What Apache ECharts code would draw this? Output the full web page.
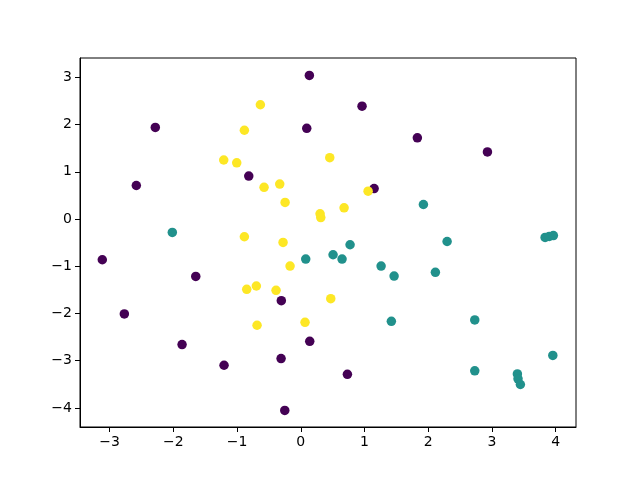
<!DOCTYPE html>
<html>
<head>
<meta charset="utf-8">
<script src="https://cdn.jsdelivr.net/npm/echarts@6/dist/echarts.min.js"></script>
<style>html,body{margin:0;padding:0;background:#fff}#c{width:640px;height:480px}</style>
</head>
<body>
<div id="c"></div>
<script>
const xTicks = [-3, -2, -1, 0, 1, 2, 3, 4];
const yTicks = [-4, -3, -2, -1, 0, 1, 2, 3];
const xRange = [-3.465, 4.32];
const yRange = [-4.405, 3.41];

const purplePts = [[0.135,3.04],[0.962,2.39],[0.094,1.92],[-2.283,1.94],[1.83,1.72],[2.93,1.42],[-0.816,0.91],[-2.581,0.71],[1.151,0.645],[-3.115,-0.863],[-1.648,-1.216],[-0.305,-1.73],[-2.769,-2.01],[0.141,-2.59],[-1.863,-2.66],[-0.309,-2.956],[-1.204,-3.097],[0.732,-3.29],[-0.251,-4.055]];
const tealPts = [[-2.016,-0.285],[1.925,0.307],[3.835,-0.39],[3.90,-0.37],[3.965,-0.35],[2.297,-0.476],[0.774,-0.545],[0.078,-0.848],[0.507,-0.757],[0.648,-0.848],[1.261,-0.996],[1.465,-1.208],[2.113,-1.13],[1.422,-2.167],[2.731,-2.138],[3.956,-2.89],[2.731,-3.216],[3.40,-3.28],[3.41,-3.385],[3.447,-3.505]];
const yellowPts = [[-0.634,2.42],[-0.885,1.88],[-1.209,1.25],[-1.005,1.19],[-0.576,0.67],[-0.33,0.74],[-0.246,0.35],[0.455,1.30],[1.057,0.59],[0.68,0.237],[0.303,0.11],[0.314,0.03],[-0.885,-0.376],[-0.278,-0.497],[-0.168,-0.996],[-0.848,-1.49],[-0.697,-1.419],[-0.388,-1.51],[-0.686,-2.25],[0.471,-1.687],[0.067,-2.188]];

const colors = {purple:'#440154', teal:'#21918c', yellow:'#fde725'};
const fmt = v => String(v).replace('-', '\u2212');
const labelStyle = {color:'#000', fontSize:14, fontFamily:'DejaVu Sans'};

const chart = echarts.init(document.getElementById('c'), null, {renderer:'canvas'});
function ser(name, data, color){
  return {name, type:'scatter', data, symbol:'circle', symbolSize:9.5,
    itemStyle:{color, opacity:1}, emphasis:{disabled:true}, animation:false};
}
chart.setOption({
  animation:false,
  backgroundColor:'#fff',
  grid:{left:80, right:64, top:58, bottom:53, show:true, borderColor:'#000', borderWidth:1, backgroundColor:'transparent'},
  xAxis:{type:'value', min:xRange[0], max:xRange[1],
    axisLine:{show:true, onZero:false, lineStyle:{color:'#000', width:1}},
    axisTick:{show:true, length:5, lineStyle:{color:'#000'}, customValues:xTicks},
    axisLabel:Object.assign({margin:8, formatter:fmt, customValues:xTicks}, labelStyle),
    splitLine:{show:false}},
  yAxis:{type:'value', min:yRange[0], max:yRange[1],
    axisLine:{show:true, onZero:false, lineStyle:{color:'#000', width:1}},
    axisTick:{show:true, length:5, lineStyle:{color:'#000'}, customValues:yTicks},
    axisLabel:Object.assign({margin:8, formatter:fmt, customValues:yTicks}, labelStyle),
    splitLine:{show:false}},
  series:[ser('c0', purplePts, colors.purple), ser('c1', tealPts, colors.teal), ser('c2', yellowPts, colors.yellow)]
});
</script>
</body>
</html>
